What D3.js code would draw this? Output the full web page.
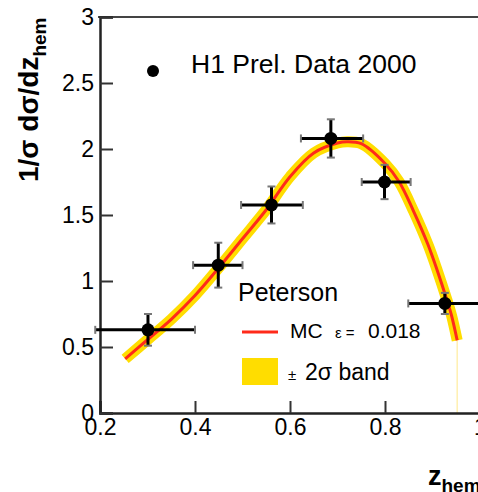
<!DOCTYPE html>
<html>
<head>
<meta charset="utf-8">
<script src="https://cdn.jsdelivr.net/npm/d3@7"></script>
<style>
  body { margin: 0; background: #fff; }
  svg { display: block; font-family: 'Liberation Sans', Arial, sans-serif; }
</style>
</head>
<body>
<svg width="478" height="492"></svg>
<script>
// data points
let dataX    = [0.301, 0.449, 0.561, 0.686, 0.799, 0.926]
let dataY    = [0.63, 1.12, 1.576, 2.08, 1.75, 0.83]
let dataXlo  = [0.19, 0.396, 0.497, 0.623, 0.751, 0.849]
let dataXhi  = [0.40, 0.50, 0.627, 0.754, 0.854, 1.0]
let dataYerr = [0.12, 0.17, 0.14, 0.145, 0.13, 0.08]

// Peterson MC curve
let curveX = [0.253, 0.30, 0.35, 0.40, 0.45, 0.50, 0.55, 0.60, 0.65, 0.70, 0.72, 0.75, 0.80, 0.83, 0.86, 0.89, 0.91, 0.93, 0.94, 0.952]
let curveY = [0.41, 0.555, 0.71, 0.89, 1.10, 1.32, 1.54, 1.79, 1.97, 2.045, 2.055, 2.04, 1.89, 1.75, 1.53, 1.28, 1.08, 0.86, 0.74, 0.55]

let xTicks = [0.2, 0.4, 0.6, 0.8, 1.0]
let xTickLabels = ['0.2', '0.4', '0.6', '0.8', '1']
let yTicks = [0, 0.5, 1, 1.5, 2, 2.5, 3]
let yTickLabels = ['0', '0.5', '1', '1.5', '2', '2.5', '3']

let svg = d3.select('svg')

let x = d3.scaleLinear().domain([0.2, 1.0]).range([100, 480])
let y = d3.scaleLinear().domain([0, 3]).range([413, 17])

let curve = curveX.map((v, i) => ({ x: v, y: curveY[i] }))
let points = dataX.map((v, i) => ({ x: v, y: dataY[i], xlo: dataXlo[i], xhi: dataXhi[i], ye: dataYerr[i] }))

let line = d3.line().x(d => x(d.x)).y(d => y(d.y)).curve(d3.curveCatmullRom)

// yellow 2 sigma band
svg.append('path')
    .datum(curve)
    .attr('d', line)
    .attr('fill', 'none')
    .attr('stroke', '#ffdd00')
    .attr('stroke-width', 11)

let last = curve[curve.length - 1]
svg.append('line')
    .attr('x1', x(last.x)).attr('x2', x(last.x))
    .attr('y1', y(last.y)).attr('y2', y(0))
    .attr('stroke', '#fff0b0')
    .attr('stroke-width', 1.5)

// red MC line
svg.append('path')
    .datum(curve)
    .attr('d', line)
    .attr('fill', 'none')
    .attr('stroke', '#ff2a1a')
    .attr('stroke-width', 3)

// frame
svg.append('line')
    .attr('x1', 98).attr('x2', 478)
    .attr('y1', y(3)).attr('y2', y(3))
    .attr('stroke', '#444').attr('stroke-width', 2)

// axes
let xMinor = d3.axisBottom(x).tickValues(d3.range(0.25, 1.0, 0.05)).tickSize(-7).tickFormat('')
let xMajor = d3.axisBottom(x).tickValues(xTicks).tickSize(-12).tickPadding(6)
    .tickFormat((d, i) => xTickLabels[i])
let yMinor = d3.axisLeft(y).tickValues(d3.range(0.1, 3, 0.1)).tickSize(-7).tickFormat('')
let yMajor = d3.axisLeft(y).tickValues(yTicks).tickSize(-13).tickPadding(6)
    .tickFormat((d, i) => yTickLabels[i])

let gx = svg.append('g').attr('transform', 'translate(0,' + y(0) + ')')
gx.call(xMinor)
gx.call(xMajor)
let gy = svg.append('g').attr('transform', 'translate(' + x(0.2) + ',0)')
gy.call(yMinor)
gy.call(yMajor)

svg.selectAll('.domain').attr('stroke', '#222').attr('stroke-width', 2.5)
svg.selectAll('.tick line').attr('stroke', '#333').attr('stroke-width', 2)
svg.selectAll('.tick text').attr('font-size', 23).attr('fill', '#000')
    .attr('font-family', "'Liberation Sans', Arial, sans-serif")

// error bars
let eb = svg.append('g').attr('stroke', '#000')
let ebars = eb.selectAll('g').data(points).enter().append('g')
ebars.append('line')
    .attr('x1', d => x(d.xlo)).attr('x2', d => x(d.xhi))
    .attr('y1', d => y(d.y)).attr('y2', d => y(d.y))
    .attr('stroke-width', 3)
ebars.append('line')
    .attr('x1', d => x(d.x)).attr('x2', d => x(d.x))
    .attr('y1', d => y(d.y - d.ye)).attr('y2', d => y(d.y + d.ye))
    .attr('stroke-width', 3)
// end marks
ebars.append('line')
    .attr('x1', d => x(d.xlo)).attr('x2', d => x(d.xlo))
    .attr('y1', d => y(d.y) - 4).attr('y2', d => y(d.y) + 4)
    .attr('stroke', '#777').attr('stroke-width', 2)
ebars.append('line')
    .attr('x1', d => x(d.xhi)).attr('x2', d => x(d.xhi))
    .attr('y1', d => y(d.y) - 4).attr('y2', d => y(d.y) + 4)
    .attr('stroke', '#777').attr('stroke-width', 2)
ebars.append('line')
    .attr('x1', d => x(d.x) - 4).attr('x2', d => x(d.x) + 4)
    .attr('y1', d => y(d.y + d.ye)).attr('y2', d => y(d.y + d.ye))
    .attr('stroke', '#777').attr('stroke-width', 2)
ebars.append('line')
    .attr('x1', d => x(d.x) - 4).attr('x2', d => x(d.x) + 4)
    .attr('y1', d => y(d.y - d.ye)).attr('y2', d => y(d.y - d.ye))
    .attr('stroke', '#777').attr('stroke-width', 2)
ebars.append('circle')
    .attr('cx', d => x(d.x)).attr('cy', d => y(d.y))
    .attr('r', 6.5).attr('fill', '#000').attr('stroke', 'none')

// legend: data
svg.append('circle').attr('cx', 153).attr('cy', 71).attr('r', 6).attr('fill', '#000')
svg.append('text').attr('x', 191).attr('y', 73).attr('font-size', 26.5)
    .text('H1 Prel. Data 2000')

// legend: Peterson
svg.append('text').attr('x', 238).attr('y', 301).attr('font-size', 25).text('Peterson')
svg.append('line').attr('x1', 242).attr('x2', 278).attr('y1', 332).attr('y2', 332)
    .attr('stroke', '#ff2a1a').attr('stroke-width', 3)
let mc = svg.append('text').attr('y', 338).attr('font-size', 21)
mc.append('tspan').attr('x', 290).text('MC')
mc.append('tspan').attr('x', 335).attr('font-size', 15).text('ε =')
mc.append('tspan').attr('x', 368).text('0.018')

svg.append('rect').attr('x', 242).attr('y', 358).attr('width', 36).attr('height', 27)
    .attr('fill', '#ffdd00')
let bd = svg.append('text').attr('y', 380).attr('font-size', 23)
bd.append('tspan').attr('x', 288).attr('font-size', 15).text('±')
bd.append('tspan').attr('x', 305).text('2σ band')

// axis titles
let yt = svg.append('text')
    .attr('transform', 'translate(38,182) rotate(-90)')
    .attr('font-size', 28).attr('font-weight', 'bold')
yt.append('tspan').text('1/σ dσ/dz')
yt.append('tspan').attr('font-size', 19).attr('dy', 8).text('hem')

let xt = svg.append('text').attr('x', 428).attr('y', 485)
    .attr('font-size', 27).attr('font-weight', 'bold')
xt.append('tspan').text('z')
xt.append('tspan').attr('font-size', 19).attr('dy', 7).text('hem')
</script>
</body>
</html>
